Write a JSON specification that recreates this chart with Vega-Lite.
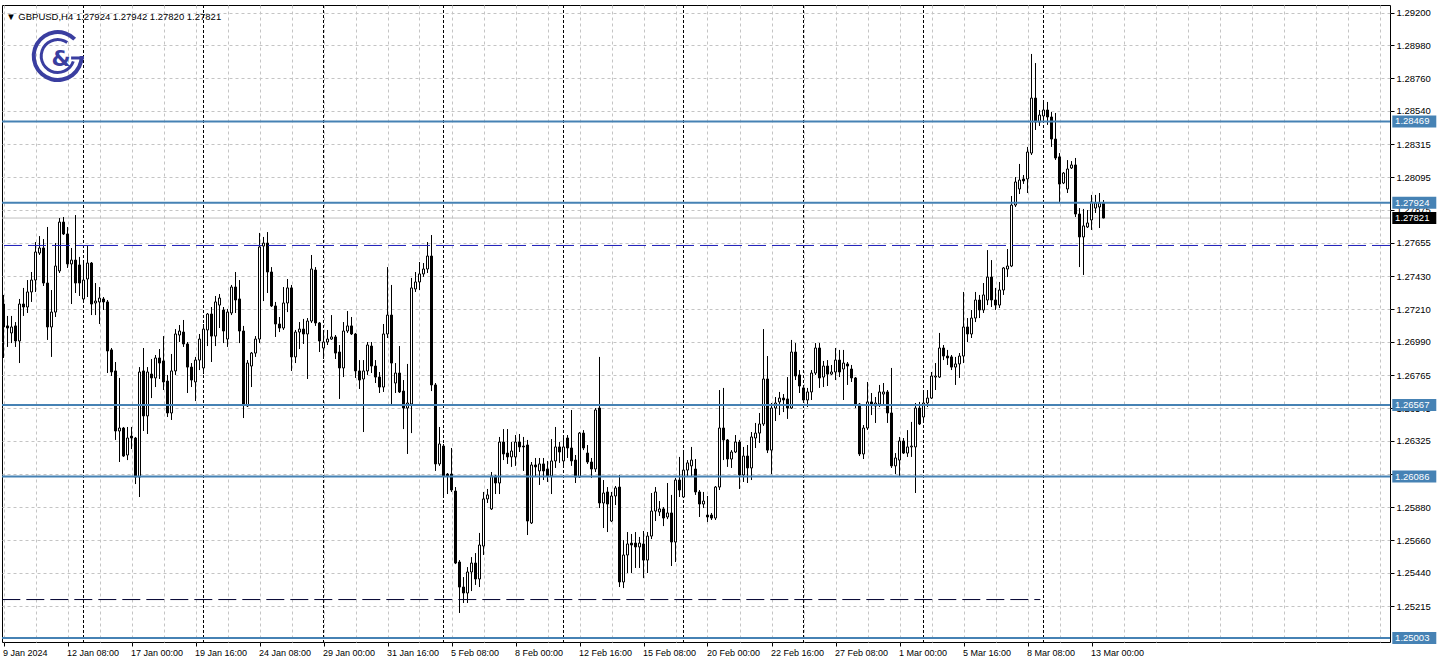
{
"$schema": "https://vega.github.io/schema/vega-lite/v6.json",
"width": 1388, "height": 637,
"autosize": {"type": "none"},
"padding": {"left": 2, "top": 5, "right": 48, "bottom": 29},
"background": "white",
"config": {"view": {"stroke": "black", "strokeWidth": 1}, "axis": {"labelOverlap": false, "labelBound": false, "labelFlush": false, "title": null, "tickCount": 200}},
"datasets": {
"candles": [
{"i":0,"o":1.27244,"h":1.27305,"l":1.26882,"c":1.27090},
{"i":1,"o":1.27097,"h":1.27164,"l":1.26956,"c":1.27083},
{"i":2,"o":1.27050,"h":1.27164,"l":1.26982,"c":1.27090},
{"i":3,"o":1.27097,"h":1.27123,"l":1.26956,"c":1.26996},
{"i":4,"o":1.26996,"h":1.27278,"l":1.26848,"c":1.27244},
{"i":5,"o":1.27244,"h":1.27352,"l":1.27164,"c":1.27224},
{"i":6,"o":1.27224,"h":1.27405,"l":1.27184,"c":1.27325},
{"i":7,"o":1.27325,"h":1.27459,"l":1.27258,"c":1.27405},
{"i":8,"o":1.27405,"h":1.27660,"l":1.27325,"c":1.27593},
{"i":9,"o":1.27586,"h":1.27700,"l":1.27573,"c":1.27620},
{"i":10,"o":1.27620,"h":1.27680,"l":1.27365,"c":1.27385},
{"i":11,"o":1.27385,"h":1.27761,"l":1.27003,"c":1.27090},
{"i":12,"o":1.27090,"h":1.27338,"l":1.26889,"c":1.27190},
{"i":13,"o":1.27190,"h":1.27653,"l":1.27157,"c":1.27499},
{"i":14,"o":1.27466,"h":1.27821,"l":1.27452,"c":1.27794},
{"i":15,"o":1.27794,"h":1.27828,"l":1.27707,"c":1.27714},
{"i":16,"o":1.27714,"h":1.27761,"l":1.27486,"c":1.27513},
{"i":17,"o":1.27513,"h":1.27620,"l":1.27244,"c":1.27539},
{"i":18,"o":1.27539,"h":1.27841,"l":1.27318,"c":1.27385},
{"i":19,"o":1.27506,"h":1.27560,"l":1.27298,"c":1.27385},
{"i":20,"o":1.27278,"h":1.27519,"l":1.27264,"c":1.27405},
{"i":21,"o":1.27412,"h":1.27633,"l":1.27291,"c":1.27519},
{"i":22,"o":1.27519,"h":1.27526,"l":1.27170,"c":1.27244},
{"i":23,"o":1.27251,"h":1.27385,"l":1.27170,"c":1.27264},
{"i":24,"o":1.27258,"h":1.27358,"l":1.27110,"c":1.27284},
{"i":25,"o":1.27278,"h":1.27291,"l":1.27204,"c":1.27258},
{"i":26,"o":1.27258,"h":1.27271,"l":1.26781,"c":1.26929},
{"i":27,"o":1.26936,"h":1.26949,"l":1.26761,"c":1.26788},
{"i":28,"o":1.26795,"h":1.26855,"l":1.26332,"c":1.26392},
{"i":29,"o":1.26392,"h":1.26748,"l":1.26184,"c":1.26412},
{"i":30,"o":1.26412,"h":1.26419,"l":1.26218,"c":1.26224},
{"i":31,"o":1.26231,"h":1.26419,"l":1.26197,"c":1.26345},
{"i":32,"o":1.26358,"h":1.26419,"l":1.26271,"c":1.26345},
{"i":33,"o":1.26345,"h":1.26352,"l":1.26036,"c":1.26083},
{"i":34,"o":1.26083,"h":1.26821,"l":1.25949,"c":1.26788},
{"i":35,"o":1.26795,"h":1.26949,"l":1.26392,"c":1.26493},
{"i":36,"o":1.26493,"h":1.26821,"l":1.26372,"c":1.26788},
{"i":37,"o":1.26774,"h":1.26875,"l":1.26613,"c":1.26748},
{"i":38,"o":1.26748,"h":1.26902,"l":1.26687,"c":1.26882},
{"i":39,"o":1.26882,"h":1.26942,"l":1.26741,"c":1.26848},
{"i":40,"o":1.26862,"h":1.27029,"l":1.26667,"c":1.26721},
{"i":41,"o":1.26727,"h":1.26768,"l":1.26486,"c":1.26513},
{"i":42,"o":1.26513,"h":1.26909,"l":1.26466,"c":1.26795},
{"i":43,"o":1.26795,"h":1.27076,"l":1.26768,"c":1.27043},
{"i":44,"o":1.27036,"h":1.27103,"l":1.26989,"c":1.27063},
{"i":45,"o":1.27056,"h":1.27137,"l":1.26956,"c":1.26976},
{"i":46,"o":1.26976,"h":1.26989,"l":1.26647,"c":1.26821},
{"i":47,"o":1.26821,"h":1.26848,"l":1.26687,"c":1.26734},
{"i":48,"o":1.26721,"h":1.26889,"l":1.26593,"c":1.26868},
{"i":49,"o":1.26868,"h":1.27043,"l":1.26801,"c":1.27009},
{"i":50,"o":1.26815,"h":1.27110,"l":1.26774,"c":1.27076},
{"i":51,"o":1.27070,"h":1.27184,"l":1.26962,"c":1.27177},
{"i":52,"o":1.27177,"h":1.27224,"l":1.26855,"c":1.27029},
{"i":53,"o":1.27029,"h":1.27298,"l":1.26962,"c":1.27258},
{"i":54,"o":1.27237,"h":1.27311,"l":1.27083,"c":1.27284},
{"i":55,"o":1.27204,"h":1.27224,"l":1.26982,"c":1.27063},
{"i":56,"o":1.27009,"h":1.27211,"l":1.26956,"c":1.27190},
{"i":57,"o":1.27184,"h":1.27372,"l":1.27170,"c":1.27358},
{"i":58,"o":1.27358,"h":1.27459,"l":1.27184,"c":1.27271},
{"i":59,"o":1.27278,"h":1.27405,"l":1.26982,"c":1.27063},
{"i":60,"o":1.27063,"h":1.27097,"l":1.26479,"c":1.26566},
{"i":61,"o":1.26560,"h":1.26868,"l":1.26553,"c":1.26848},
{"i":62,"o":1.26828,"h":1.26922,"l":1.26687,"c":1.26915},
{"i":63,"o":1.26915,"h":1.27029,"l":1.26889,"c":1.27009},
{"i":64,"o":1.27009,"h":1.27721,"l":1.26982,"c":1.27627},
{"i":65,"o":1.27633,"h":1.27694,"l":1.27264,"c":1.27653},
{"i":66,"o":1.27653,"h":1.27727,"l":1.27318,"c":1.27459},
{"i":67,"o":1.27459,"h":1.27492,"l":1.27224,"c":1.27231},
{"i":68,"o":1.27231,"h":1.27258,"l":1.27023,"c":1.27110},
{"i":69,"o":1.27110,"h":1.27157,"l":1.27056,"c":1.27083},
{"i":70,"o":1.27083,"h":1.27358,"l":1.27070,"c":1.27251},
{"i":71,"o":1.27251,"h":1.27412,"l":1.27190,"c":1.27352},
{"i":72,"o":1.27352,"h":1.27372,"l":1.26795,"c":1.26889},
{"i":73,"o":1.26889,"h":1.27070,"l":1.26848,"c":1.27056},
{"i":74,"o":1.27056,"h":1.27123,"l":1.26942,"c":1.27076},
{"i":75,"o":1.27076,"h":1.27144,"l":1.26976,"c":1.27043},
{"i":76,"o":1.27043,"h":1.27150,"l":1.26741,"c":1.27130},
{"i":77,"o":1.27130,"h":1.27573,"l":1.27117,"c":1.27479},
{"i":78,"o":1.27472,"h":1.27492,"l":1.27097,"c":1.27117},
{"i":79,"o":1.27117,"h":1.27123,"l":1.26922,"c":1.26996},
{"i":80,"o":1.26949,"h":1.27050,"l":1.26875,"c":1.26989},
{"i":81,"o":1.26989,"h":1.27070,"l":1.26969,"c":1.27009},
{"i":82,"o":1.27009,"h":1.27170,"l":1.27003,"c":1.27023},
{"i":83,"o":1.27023,"h":1.27036,"l":1.26875,"c":1.26915},
{"i":84,"o":1.26922,"h":1.26969,"l":1.26607,"c":1.26815},
{"i":85,"o":1.26815,"h":1.27123,"l":1.26754,"c":1.27063},
{"i":86,"o":1.27063,"h":1.27197,"l":1.27050,"c":1.27097},
{"i":87,"o":1.27097,"h":1.27157,"l":1.27036,"c":1.27043},
{"i":88,"o":1.27043,"h":1.27050,"l":1.26748,"c":1.26795},
{"i":89,"o":1.26795,"h":1.26868,"l":1.26674,"c":1.26734},
{"i":90,"o":1.26741,"h":1.26868,"l":1.26385,"c":1.26795},
{"i":91,"o":1.26795,"h":1.26989,"l":1.26768,"c":1.26969},
{"i":92,"o":1.26962,"h":1.26989,"l":1.26781,"c":1.26828},
{"i":93,"o":1.26828,"h":1.26868,"l":1.26714,"c":1.26754},
{"i":94,"o":1.26754,"h":1.26788,"l":1.26647,"c":1.26687},
{"i":95,"o":1.26687,"h":1.27110,"l":1.26654,"c":1.27043},
{"i":96,"o":1.27043,"h":1.27492,"l":1.27016,"c":1.27170},
{"i":97,"o":1.27170,"h":1.27372,"l":1.26566,"c":1.26848},
{"i":98,"o":1.26714,"h":1.26848,"l":1.26647,"c":1.26781},
{"i":99,"o":1.26781,"h":1.26962,"l":1.26647,"c":1.26654},
{"i":100,"o":1.26660,"h":1.26734,"l":1.26405,"c":1.26546},
{"i":101,"o":1.26546,"h":1.26842,"l":1.26238,"c":1.26580},
{"i":102,"o":1.26573,"h":1.27419,"l":1.26378,"c":1.27352},
{"i":103,"o":1.27345,"h":1.27459,"l":1.27325,"c":1.27392},
{"i":104,"o":1.27392,"h":1.27526,"l":1.27338,"c":1.27446},
{"i":105,"o":1.27446,"h":1.27519,"l":1.27426,"c":1.27479},
{"i":106,"o":1.27479,"h":1.27660,"l":1.27452,"c":1.27566},
{"i":107,"o":1.27566,"h":1.27707,"l":1.26660,"c":1.26701},
{"i":108,"o":1.26701,"h":1.26714,"l":1.26124,"c":1.26171},
{"i":109,"o":1.26171,"h":1.26419,"l":1.26158,"c":1.26305},
{"i":110,"o":1.26291,"h":1.26305,"l":1.25956,"c":1.26090},
{"i":111,"o":1.26103,"h":1.26110,"l":1.25969,"c":1.26090},
{"i":112,"o":1.26103,"h":1.26278,"l":1.25983,"c":1.25996},
{"i":113,"o":1.25989,"h":1.26016,"l":1.25499,"c":1.25506},
{"i":114,"o":1.25513,"h":1.25526,"l":1.25171,"c":1.25345},
{"i":115,"o":1.25345,"h":1.25412,"l":1.25238,"c":1.25305},
{"i":116,"o":1.25305,"h":1.25479,"l":1.25238,"c":1.25446},
{"i":117,"o":1.25446,"h":1.25546,"l":1.25318,"c":1.25506},
{"i":118,"o":1.25506,"h":1.25573,"l":1.25359,"c":1.25399},
{"i":119,"o":1.25399,"h":1.25708,"l":1.25345,"c":1.25627},
{"i":120,"o":1.25620,"h":1.25983,"l":1.25560,"c":1.25936},
{"i":121,"o":1.25936,"h":1.26003,"l":1.25909,"c":1.25963},
{"i":122,"o":1.25869,"h":1.26117,"l":1.25862,"c":1.26090},
{"i":123,"o":1.26090,"h":1.26097,"l":1.25969,"c":1.26043},
{"i":124,"o":1.26043,"h":1.26352,"l":1.25969,"c":1.26318},
{"i":125,"o":1.26318,"h":1.26405,"l":1.26197,"c":1.26238},
{"i":126,"o":1.26244,"h":1.26405,"l":1.26171,"c":1.26218},
{"i":127,"o":1.26218,"h":1.26318,"l":1.26151,"c":1.26258},
{"i":128,"o":1.26218,"h":1.26365,"l":1.26158,"c":1.26318},
{"i":129,"o":1.26318,"h":1.26372,"l":1.26251,"c":1.26285},
{"i":130,"o":1.26291,"h":1.26352,"l":1.26124,"c":1.26285},
{"i":131,"o":1.26298,"h":1.26332,"l":1.25694,"c":1.25788},
{"i":132,"o":1.25775,"h":1.26184,"l":1.25768,"c":1.26164},
{"i":133,"o":1.26164,"h":1.26211,"l":1.26083,"c":1.26151},
{"i":134,"o":1.26124,"h":1.26211,"l":1.26030,"c":1.26171},
{"i":135,"o":1.26171,"h":1.26211,"l":1.26063,"c":1.26124},
{"i":136,"o":1.26137,"h":1.26191,"l":1.26050,"c":1.26090},
{"i":137,"o":1.26090,"h":1.26338,"l":1.25969,"c":1.26191},
{"i":138,"o":1.26191,"h":1.26419,"l":1.26144,"c":1.26285},
{"i":139,"o":1.26285,"h":1.26318,"l":1.26178,"c":1.26251},
{"i":140,"o":1.26191,"h":1.26365,"l":1.26144,"c":1.26285},
{"i":141,"o":1.26345,"h":1.26365,"l":1.26211,"c":1.26278},
{"i":142,"o":1.26278,"h":1.26533,"l":1.26158,"c":1.26191},
{"i":143,"o":1.26197,"h":1.26231,"l":1.26043,"c":1.26083},
{"i":144,"o":1.26083,"h":1.26385,"l":1.26077,"c":1.26378},
{"i":145,"o":1.26378,"h":1.26398,"l":1.26264,"c":1.26278},
{"i":146,"o":1.26244,"h":1.26298,"l":1.26171,"c":1.26184},
{"i":147,"o":1.26184,"h":1.26211,"l":1.26077,"c":1.26137},
{"i":148,"o":1.26137,"h":1.26546,"l":1.26117,"c":1.26533},
{"i":149,"o":1.26546,"h":1.26889,"l":1.25875,"c":1.25909},
{"i":150,"o":1.25909,"h":1.26063,"l":1.25741,"c":1.25976},
{"i":151,"o":1.25983,"h":1.26016,"l":1.25714,"c":1.25902},
{"i":152,"o":1.25788,"h":1.25983,"l":1.25781,"c":1.25956},
{"i":153,"o":1.25956,"h":1.26023,"l":1.25895,"c":1.26010},
{"i":154,"o":1.26016,"h":1.26097,"l":1.25345,"c":1.25379},
{"i":155,"o":1.25379,"h":1.25660,"l":1.25338,"c":1.25560},
{"i":156,"o":1.25560,"h":1.25714,"l":1.25439,"c":1.25634},
{"i":157,"o":1.25640,"h":1.25701,"l":1.25439,"c":1.25627},
{"i":158,"o":1.25640,"h":1.25714,"l":1.25473,"c":1.25614},
{"i":159,"o":1.25614,"h":1.25681,"l":1.25473,"c":1.25640},
{"i":160,"o":1.25634,"h":1.25721,"l":1.25405,"c":1.25526},
{"i":161,"o":1.25526,"h":1.25714,"l":1.25439,"c":1.25687},
{"i":162,"o":1.25687,"h":1.25976,"l":1.25667,"c":1.25855},
{"i":163,"o":1.25855,"h":1.26016,"l":1.25788,"c":1.25983},
{"i":164,"o":1.25849,"h":1.25922,"l":1.25822,"c":1.25869},
{"i":165,"o":1.25869,"h":1.25882,"l":1.25754,"c":1.25808},
{"i":166,"o":1.25815,"h":1.26043,"l":1.25801,"c":1.25842},
{"i":167,"o":1.25842,"h":1.25963,"l":1.25486,"c":1.25647},
{"i":168,"o":1.25647,"h":1.26077,"l":1.25513,"c":1.26063},
{"i":169,"o":1.26063,"h":1.26218,"l":1.25949,"c":1.25996},
{"i":170,"o":1.25949,"h":1.26258,"l":1.25942,"c":1.26130},
{"i":171,"o":1.26130,"h":1.26197,"l":1.26083,"c":1.26178},
{"i":172,"o":1.26158,"h":1.26285,"l":1.26083,"c":1.26197},
{"i":173,"o":1.26137,"h":1.26204,"l":1.25963,"c":1.25983},
{"i":174,"o":1.25983,"h":1.25996,"l":1.25815,"c":1.25902},
{"i":175,"o":1.25902,"h":1.25983,"l":1.25875,"c":1.25922},
{"i":176,"o":1.25828,"h":1.25956,"l":1.25781,"c":1.25815},
{"i":177,"o":1.25828,"h":1.25842,"l":1.25795,"c":1.25808},
{"i":178,"o":1.25808,"h":1.26023,"l":1.25795,"c":1.26016},
{"i":179,"o":1.26016,"h":1.26667,"l":1.25996,"c":1.26412},
{"i":180,"o":1.26412,"h":1.26681,"l":1.26197,"c":1.26332},
{"i":181,"o":1.26332,"h":1.26338,"l":1.26151,"c":1.26204},
{"i":182,"o":1.26204,"h":1.26264,"l":1.26144,"c":1.26251},
{"i":183,"o":1.26251,"h":1.26365,"l":1.26244,"c":1.26318},
{"i":184,"o":1.26318,"h":1.26332,"l":1.26003,"c":1.26097},
{"i":185,"o":1.26097,"h":1.26285,"l":1.26050,"c":1.26224},
{"i":186,"o":1.26224,"h":1.26298,"l":1.26043,"c":1.26144},
{"i":187,"o":1.26144,"h":1.26385,"l":1.26063,"c":1.26352},
{"i":188,"o":1.26345,"h":1.26446,"l":1.26278,"c":1.26378},
{"i":189,"o":1.26378,"h":1.26513,"l":1.26312,"c":1.26439},
{"i":190,"o":1.26439,"h":1.27076,"l":1.26426,"c":1.26741},
{"i":191,"o":1.26741,"h":1.26895,"l":1.26244,"c":1.26264},
{"i":192,"o":1.26264,"h":1.26580,"l":1.26103,"c":1.26546},
{"i":193,"o":1.26546,"h":1.26620,"l":1.26459,"c":1.26580},
{"i":194,"o":1.26587,"h":1.26654,"l":1.26499,"c":1.26613},
{"i":195,"o":1.26613,"h":1.26640,"l":1.26519,"c":1.26600},
{"i":196,"o":1.26607,"h":1.26754,"l":1.26473,"c":1.26546},
{"i":197,"o":1.26546,"h":1.27003,"l":1.26540,"c":1.26922},
{"i":198,"o":1.26922,"h":1.26982,"l":1.26734,"c":1.26761},
{"i":199,"o":1.26768,"h":1.26801,"l":1.26647,"c":1.26694},
{"i":200,"o":1.26681,"h":1.26701,"l":1.26580,"c":1.26600},
{"i":201,"o":1.26600,"h":1.26681,"l":1.26553,"c":1.26654},
{"i":202,"o":1.26654,"h":1.26801,"l":1.26600,"c":1.26781},
{"i":203,"o":1.26781,"h":1.26982,"l":1.26768,"c":1.26949},
{"i":204,"o":1.26949,"h":1.26982,"l":1.26681,"c":1.26748},
{"i":205,"o":1.26754,"h":1.26862,"l":1.26687,"c":1.26828},
{"i":206,"o":1.26828,"h":1.26868,"l":1.26694,"c":1.26774},
{"i":207,"o":1.26774,"h":1.26835,"l":1.26768,"c":1.26788},
{"i":208,"o":1.26788,"h":1.26949,"l":1.26734,"c":1.26868},
{"i":209,"o":1.26868,"h":1.26936,"l":1.26754,"c":1.26788},
{"i":210,"o":1.26808,"h":1.26936,"l":1.26600,"c":1.26848},
{"i":211,"o":1.26842,"h":1.26855,"l":1.26701,"c":1.26828},
{"i":212,"o":1.26808,"h":1.26835,"l":1.26721,"c":1.26748},
{"i":213,"o":1.26748,"h":1.26754,"l":1.26546,"c":1.26573},
{"i":214,"o":1.26573,"h":1.26580,"l":1.26224,"c":1.26238},
{"i":215,"o":1.26238,"h":1.26432,"l":1.26204,"c":1.26412},
{"i":216,"o":1.26412,"h":1.26721,"l":1.26399,"c":1.26587},
{"i":217,"o":1.26587,"h":1.26647,"l":1.26499,"c":1.26566},
{"i":218,"o":1.26560,"h":1.26620,"l":1.26446,"c":1.26580},
{"i":219,"o":1.26573,"h":1.26701,"l":1.26553,"c":1.26654},
{"i":220,"o":1.26640,"h":1.26714,"l":1.26566,"c":1.26654},
{"i":221,"o":1.26654,"h":1.26667,"l":1.26446,"c":1.26513},
{"i":222,"o":1.26513,"h":1.26815,"l":1.26144,"c":1.26158},
{"i":223,"o":1.26158,"h":1.26244,"l":1.26103,"c":1.26211},
{"i":224,"o":1.26197,"h":1.26352,"l":1.26083,"c":1.26325},
{"i":225,"o":1.26325,"h":1.26345,"l":1.26238,"c":1.26244},
{"i":226,"o":1.26244,"h":1.26398,"l":1.26218,"c":1.26285},
{"i":227,"o":1.26285,"h":1.26453,"l":1.26218,"c":1.26291},
{"i":228,"o":1.26285,"h":1.26580,"l":1.25976,"c":1.26546},
{"i":229,"o":1.26546,"h":1.26587,"l":1.26432,"c":1.26439},
{"i":230,"o":1.26486,"h":1.26647,"l":1.26446,"c":1.26580},
{"i":231,"o":1.26580,"h":1.26667,"l":1.26553,"c":1.26613},
{"i":232,"o":1.26613,"h":1.26788,"l":1.26607,"c":1.26761},
{"i":233,"o":1.26754,"h":1.26848,"l":1.26667,"c":1.26761},
{"i":234,"o":1.26754,"h":1.27050,"l":1.26748,"c":1.26949},
{"i":235,"o":1.26949,"h":1.26969,"l":1.26868,"c":1.26895},
{"i":236,"o":1.26895,"h":1.26936,"l":1.26835,"c":1.26882},
{"i":237,"o":1.26889,"h":1.26902,"l":1.26801,"c":1.26821},
{"i":238,"o":1.26821,"h":1.26889,"l":1.26701,"c":1.26842},
{"i":239,"o":1.26842,"h":1.26915,"l":1.26748,"c":1.26895},
{"i":240,"o":1.26895,"h":1.27325,"l":1.26848,"c":1.27090},
{"i":241,"o":1.27090,"h":1.27150,"l":1.26989,"c":1.27043},
{"i":242,"o":1.27043,"h":1.27204,"l":1.27016,"c":1.27150},
{"i":243,"o":1.27150,"h":1.27325,"l":1.27123,"c":1.27271},
{"i":244,"o":1.27271,"h":1.27305,"l":1.27150,"c":1.27204},
{"i":245,"o":1.27204,"h":1.27385,"l":1.27184,"c":1.27305},
{"i":246,"o":1.27271,"h":1.27606,"l":1.27237,"c":1.27425},
{"i":247,"o":1.27425,"h":1.27539,"l":1.27224,"c":1.27271},
{"i":248,"o":1.27271,"h":1.27352,"l":1.27204,"c":1.27237},
{"i":249,"o":1.27237,"h":1.27392,"l":1.27217,"c":1.27338},
{"i":250,"o":1.27338,"h":1.27492,"l":1.27305,"c":1.27486},
{"i":251,"o":1.27479,"h":1.27613,"l":1.27425,"c":1.27499},
{"i":252,"o":1.27499,"h":1.27969,"l":1.27492,"c":1.27908},
{"i":253,"o":1.27908,"h":1.28096,"l":1.27895,"c":1.28063},
{"i":254,"o":1.28016,"h":1.28184,"l":1.27982,"c":1.28076},
{"i":255,"o":1.28083,"h":1.28110,"l":1.28050,"c":1.28070},
{"i":256,"o":1.28083,"h":1.28298,"l":1.27989,"c":1.28264},
{"i":257,"o":1.28257,"h":1.28922,"l":1.28244,"c":1.28626},
{"i":258,"o":1.28626,"h":1.28861,"l":1.28412,"c":1.28465},
{"i":259,"o":1.28465,"h":1.28546,"l":1.28439,"c":1.28512},
{"i":260,"o":1.28506,"h":1.28600,"l":1.28479,"c":1.28546},
{"i":261,"o":1.28546,"h":1.28600,"l":1.28446,"c":1.28499},
{"i":262,"o":1.28499,"h":1.28533,"l":1.28298,"c":1.28351},
{"i":263,"o":1.28351,"h":1.28526,"l":1.28211,"c":1.28224},
{"i":264,"o":1.28231,"h":1.28257,"l":1.27929,"c":1.28049},
{"i":265,"o":1.28056,"h":1.28130,"l":1.28049,"c":1.28123},
{"i":266,"o":1.28016,"h":1.28210,"l":1.27989,"c":1.28150},
{"i":267,"o":1.28157,"h":1.28203,"l":1.28150,"c":1.28177},
{"i":268,"o":1.28177,"h":1.28224,"l":1.27828,"c":1.27848},
{"i":269,"o":1.27848,"h":1.27888,"l":1.27492,"c":1.27694},
{"i":270,"o":1.27694,"h":1.27882,"l":1.27439,"c":1.27768},
{"i":271,"o":1.27761,"h":1.27875,"l":1.27754,"c":1.27788},
{"i":272,"o":1.27808,"h":1.27976,"l":1.27741,"c":1.27929},
{"i":273,"o":1.27888,"h":1.27976,"l":1.27855,"c":1.27922},
{"i":274,"o":1.27895,"h":1.27989,"l":1.27754,"c":1.27922},
{"i":275,"o":1.27924,"h":1.27942,"l":1.27820,"c":1.27821}
]
},
"layer": [
{
"data": {"name": "candles"},
"mark": {"type": "rule", "color": "black", "strokeWidth": 1, "opacity": 0},
"encoding": {
"x": {"field": "i", "type": "quantitative", "scale": {"domain": [-0.375, 346.625], "nice": false, "zero": false, "padding": 0},
"axis": {"values": [0,8,16,24,32,40,48,56,64,72,80,88,96,104,112,120,128,136,144,152,160,168,176,184,192,200,208,216,224,232,240,248,256,264,272,280,288,296,304,312,320,328,336,344],
"tickCount": 200,
"title": null, "domain": false, "grid": true, "gridColor": "#c4c4c4", "gridDash": [3, 3], "gridWidth": 1,
"ticks": true, "tickSize": 4, "tickColor": "black",
"tickOpacity": {"condition": {"test": "datum.value % 16 === 0 && datum.value <= 272", "value": 1}, "value": 0},
"labelExpr": "datum.value % 16 === 0 && datum.value <= 272 ? ['9 Jan 2024','12 Jan 08:00','17 Jan 00:00','19 Jan 16:00','24 Jan 08:00','29 Jan 00:00','31 Jan 16:00','5 Feb 08:00','8 Feb 00:00','12 Feb 16:00','15 Feb 08:00','20 Feb 00:00','22 Feb 16:00','27 Feb 08:00','1 Mar 00:00','5 Mar 16:00','8 Mar 08:00','13 Mar 00:00'][datum.value / 16] : ''",
"labelAlign": "left", "labelOffset": -1, "labelFont": "Liberation Sans", "labelFontSize": 9, "labelColor": "black", "labelPadding": 2,
"labelOverlap": false, "labelFlush": false, "labelBound": false}},
"y": {"field": "l", "type": "quantitative", "scale": {"domain": [1.249762, 1.292505], "nice": false, "zero": false, "padding": 0},
"axis": {"orient": "right", "values": [1.292,1.2898,1.2876,1.2854,1.28315,1.28095,1.27875,1.27655,1.2743,1.2721,1.2699,1.26765,1.26545,1.26325,1.26105,1.2588,1.2566,1.2544,1.25215],
"tickCount": 200,
"format": ".5f", "title": null, "domain": false, "grid": true, "gridColor": "#c4c4c4", "gridDash": [3, 3], "gridWidth": 1,
"ticks": true, "tickSize": 4, "tickColor": "black", "labelFont": "Liberation Sans", "labelFontSize": 9.5, "labelColor": "black",
"labelPadding": 2, "labelOverlap": false, "labelBound": false, "labelFlush": false}},
"y2": {"field": "h"}
}
},
{
"data": {"values": [{"i":20},{"i":50},{"i":80},{"i":110},{"i":140},{"i":170},{"i":200},{"i":230},{"i":260}]},
"mark": {"type": "rule", "color": "black", "strokeWidth": 1, "strokeDash": [3, 2]},
"encoding": {
"x": {"field": "i", "type": "quantitative", "scale": {"domain": [-0.375, 346.625], "nice": false, "zero": false, "padding": 0}}
}
},
{
"data": {"values": [{"v": 1.27821}]},
"mark": {"type": "rule", "color": "#c0c0c0", "strokeWidth": 1},
"encoding": {
"y": {"field": "v", "type": "quantitative", "scale": {"domain": [1.249762, 1.292505], "nice": false, "zero": false, "padding": 0}}
}
},
{
"data": {"name": "candles"},
"mark": {"type": "rule", "color": "black", "strokeWidth": 1},
"encoding": {
"x": {"field": "i", "type": "quantitative", "scale": {"domain": [-0.375, 346.625], "nice": false, "zero": false, "padding": 0}},
"y": {"field": "l", "type": "quantitative", "scale": {"domain": [1.249762, 1.292505], "nice": false, "zero": false, "padding": 0}},
"y2": {"field": "h"}
}
},
{
"data": {"name": "candles"},
"mark": {"type": "bar", "width": 2, "stroke": "black", "strokeWidth": 1},
"encoding": {
"x": {"field": "i", "type": "quantitative", "scale": {"domain": [-0.375, 346.625], "nice": false, "zero": false, "padding": 0}},
"y": {"field": "o", "type": "quantitative", "scale": {"domain": [1.249762, 1.292505], "nice": false, "zero": false, "padding": 0}},
"y2": {"field": "c"},
"fill": {"condition": {"test": "datum.c >= datum.o", "value": "white"}, "value": "black"}
}
},
{
"data": {"values": [{"v": 1.28469}, {"v": 1.27924}, {"v": 1.26567}, {"v": 1.26086}, {"v": 1.25003}]},
"mark": {"type": "rule", "color": "#4682b4", "strokeWidth": 2},
"encoding": {
"y": {"field": "v", "type": "quantitative", "scale": {"domain": [1.249762, 1.292505], "nice": false, "zero": false, "padding": 0}}
}
},
{
"data": {"values": [{"v": 1.27637}]},
"mark": {"type": "rule", "color": "#1c1cb8", "strokeWidth": 1, "strokeDash": [18, 6]},
"encoding": {
"y": {"field": "v", "type": "quantitative", "scale": {"domain": [1.249762, 1.292505], "nice": false, "zero": false, "padding": 0}}
}
},
{
"data": {"values": [{"v": 1.25261}]},
"mark": {"type": "rule", "color": "#000030", "strokeWidth": 1, "strokeDash": [18, 6]},
"encoding": {
"x": {"datum": -0.3, "type": "quantitative", "scale": {"domain": [-0.375, 346.625], "nice": false, "zero": false, "padding": 0}},
"x2": {"datum": 259.2},
"y": {"field": "v", "type": "quantitative", "scale": {"domain": [1.249762, 1.292505], "nice": false, "zero": false, "padding": 0}}
}
},
{
"data": {"values": [{"v": 1.28469}, {"v": 1.27924}, {"v": 1.26567}, {"v": 1.26086}, {"v": 1.25003}]},
"mark": {"type": "bar", "height": 12, "color": "#4682b4"},
"encoding": {
"x": {"datum": 347.2, "type": "quantitative", "scale": {"domain": [-0.375, 346.625], "nice": false, "zero": false, "padding": 0}},
"x2": {"datum": 358.2},
"y": {"field": "v", "type": "quantitative", "scale": {"domain": [1.249762, 1.292505], "nice": false, "zero": false, "padding": 0}}
}
},
{
"data": {"values": [{"v": 1.27821}]},
"mark": {"type": "bar", "height": 12, "color": "black"},
"encoding": {
"x": {"datum": 347.2, "type": "quantitative", "scale": {"domain": [-0.375, 346.625], "nice": false, "zero": false, "padding": 0}},
"x2": {"datum": 358.2},
"y": {"field": "v", "type": "quantitative", "scale": {"domain": [1.249762, 1.292505], "nice": false, "zero": false, "padding": 0}}
}
},
{
"data": {"values": [{"v": 1.28469}, {"v": 1.27924}, {"v": 1.26567}, {"v": 1.26086}, {"v": 1.25003}, {"v": 1.27821}]},
"mark": {"type": "text", "align": "left", "baseline": "middle", "color": "white", "font": "Liberation Sans", "fontSize": 9.5},
"encoding": {
"x": {"datum": 347.9, "type": "quantitative", "scale": {"domain": [-0.375, 346.625], "nice": false, "zero": false, "padding": 0}},
"y": {"field": "v", "type": "quantitative", "scale": {"domain": [1.249762, 1.292505], "nice": false, "zero": false, "padding": 0}},
"text": {"field": "v", "type": "quantitative", "format": ".5f"}
}
},
{
"data": {"values": [{"t": "▼ GBPUSD,H4  1.27924 1.27942 1.27820 1.27821"}]},
"mark": {"type": "text", "align": "left", "baseline": "middle", "color": "black", "font": "Liberation Sans", "fontSize": 9.5},
"encoding": {
"x": {"datum": 0.7, "type": "quantitative", "scale": {"domain": [-0.375, 346.625], "nice": false, "zero": false, "padding": 0}},
"y": {"datum": 1.2917, "type": "quantitative", "scale": {"domain": [1.249762, 1.292505], "nice": false, "zero": false, "padding": 0}},
"text": {"field": "t"}
}
},
{
"data": {"values": [{"k": "logo"}]},
"mark": {"type": "arc", "radius": 26, "radius2": 22, "theta": 1.5708, "theta2": 7.0686, "color": "#3a3ea0"},
"encoding": {
"x": {"datum": 13.55, "type": "quantitative", "scale": {"domain": [-0.375, 346.625], "nice": false, "zero": false, "padding": 0}},
"y": {"datum": 1.28908, "type": "quantitative", "scale": {"domain": [1.249762, 1.292505], "nice": false, "zero": false, "padding": 0}}
}
},
{
"data": {"values": [{"k": "logo"}]},
"mark": {"type": "arc", "radius": 18, "radius2": 15, "theta": 1.9, "theta2": 6.9, "color": "#3a3ea0"},
"encoding": {
"x": {"datum": 13.55, "type": "quantitative", "scale": {"domain": [-0.375, 346.625], "nice": false, "zero": false, "padding": 0}},
"y": {"datum": 1.28908, "type": "quantitative", "scale": {"domain": [1.249762, 1.292505], "nice": false, "zero": false, "padding": 0}}
}
},
{
"data": {"values": [{"k": "logo"}]},
"mark": {"type": "rule", "color": "#3a3ea0", "strokeWidth": 3},
"encoding": {
"x": {"datum": 16.9, "type": "quantitative", "scale": {"domain": [-0.375, 346.625], "nice": false, "zero": false, "padding": 0}},
"x2": {"datum": 20.1},
"y": {"datum": 1.28895, "type": "quantitative", "scale": {"domain": [1.249762, 1.292505], "nice": false, "zero": false, "padding": 0}}
}
},
{
"data": {"values": [{"t": "&"}]},
"mark": {"type": "text", "align": "center", "baseline": "middle", "color": "#3a3ea0", "font": "DejaVu Sans", "fontSize": 22, "fontWeight": "bold"},
"encoding": {
"x": {"datum": 14.4, "type": "quantitative", "scale": {"domain": [-0.375, 346.625], "nice": false, "zero": false, "padding": 0}},
"y": {"datum": 1.28885, "type": "quantitative", "scale": {"domain": [1.249762, 1.292505], "nice": false, "zero": false, "padding": 0}},
"text": {"field": "t"}
}
}
]
}
